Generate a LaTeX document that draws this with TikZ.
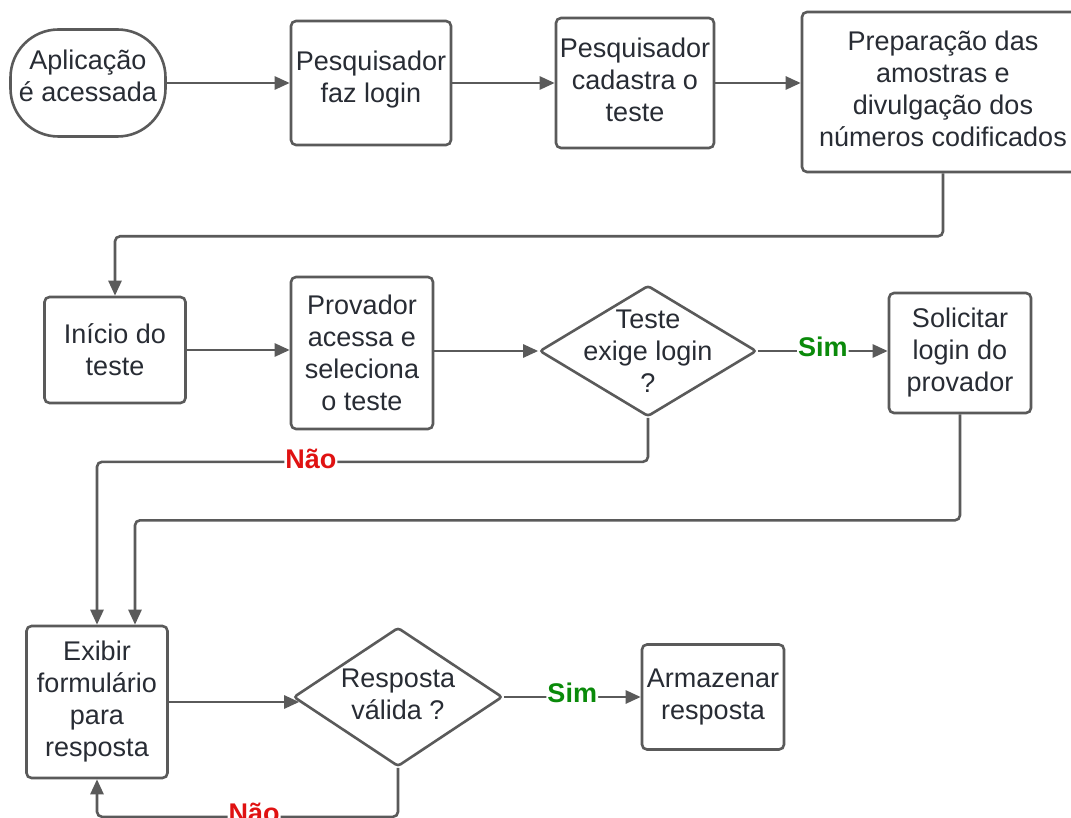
\documentclass[tikz,border=0pt]{standalone}
\usepackage{fontspec}
\setmainfont{Liberation Sans}
\usetikzlibrary{shapes.geometric,arrows.meta,calc}
\definecolor{edgegray}{HTML}{5A5A5A}
\definecolor{inkdark}{HTML}{282C34}
\definecolor{yesgreen}{HTML}{0A8A0A}
\definecolor{nored}{HTML}{E01212}
\tikzset{
  every node/.style={font=\fontsize{27}{32}\selectfont, text=inkdark, align=center},
  boxstep/.style={draw=edgegray, line width=2.6pt, rounded corners=5pt, fill=white, inner sep=0pt},
  terminal/.style={draw=edgegray, line width=2.6pt, rounded corners=48pt, fill=white,
    minimum width=155pt, minimum height=107pt, inner sep=0pt},
  decision/.style={draw=edgegray, line width=2.6pt, diamond, fill=white, inner sep=0pt,
    rounded corners=3pt},
  flow/.style={draw=edgegray, line width=2.6pt, rounded corners=5pt,
    -{Triangle[length=15pt,width=13pt]}},
  yes/.style={font=\fontsize{27}{30}\selectfont\bfseries, text=yesgreen, fill=white, inner sep=1pt},
  no/.style={font=\fontsize{27}{30}\selectfont\bfseries, text=nored, fill=white, inner sep=1pt},
}
\begin{document}
\begin{tikzpicture}[x=1pt, y=-1pt]
\useasboundingbox (0,0) rectangle (1071,818);
\clip (0,0) rectangle (1071,818);
\fill[white] (0,0) rectangle (1071,818);

% first row
\node[terminal] (app) at (88,83) {};
\node at ($(app.center)+(0,-7)$) {Aplicação\\é acessada};
\node[boxstep, minimum width=160pt, minimum height=124pt] (p1) at (371,83) {};
\node at ($(p1.center)+(0,-3)$) {Pesquisador\\faz login};
\node[boxstep, minimum width=158pt, minimum height=130pt] (p2) at (635,83) {};
\node at ($(p2.center)+(0,-3)$) {Pesquisador\\cadastra o\\teste};
\node[boxstep, minimum width=282pt, minimum height=160pt] (prep) at (943,92) {};
\node at ($(prep.center)+(0,-3)$) {Preparação das\\amostras e\\divulgação dos\\números codificados};

% second row
\node[boxstep, minimum width=141pt, minimum height=106pt] (ini) at (115,350) {Início do\\teste};
\node[boxstep, minimum width=142pt, minimum height=152pt] (prov) at (362,353)
  {Provador\\acessa e\\seleciona\\o teste};
\node[decision, minimum width=217pt, minimum height=131pt] (d1) at (648,351) {};
\node at (d1.center) {Teste\\exige login\\?};
\node[boxstep, minimum width=142pt, minimum height=120pt] (sol) at (960,353)
  {Solicitar\\login do\\provador};

% third row
\node[boxstep, minimum width=141pt, minimum height=152pt] (exi) at (97,702)
  {Exibir\\formulário\\para\\resposta};
\node[decision, minimum width=209pt, minimum height=139pt] (d2) at (398,697) {};
\node at ($(d2.center)+(0,-3)$) {Resposta\\válida ?};
\node[boxstep, minimum width=142pt, minimum height=105pt] (arm) at (713,697) {Armazenar\\resposta};

% connectors
\draw[flow] (app) -- (p1);
\draw[flow] (p1) -- (p2);
\draw[flow] (p2.east) -- (p2.east -| prep.west);
\draw[flow] (prep.south) -- ++(0,63) -| (ini.north);
\draw[flow] (ini.east) -- (ini.east -| prov.west);
\draw[flow] (d1.west -| prov.east) -- (d1.west);
\draw[flow] (d1.east) -- node[yes, pos=0.5, yshift=4pt] {Sim} (d1.east -| sol.west);
\draw[flow] (d1.south) -- ++(0,44) -| node[no, pos=0.306, yshift=3pt] {Não} (exi.north);
\draw[flow] (sol.south) -- ++(0,106) -| ([xshift=38pt]exi.north);
\draw[flow] (exi.east) -- ([shift={(7,5)}]d2.west);
\draw[flow] (d2.east) -- node[yes, pos=0.5, yshift=4pt] {Sim} (arm.west);
\draw[flow] (d2.south) -- ++(0,49) -| node[no, pos=0.239, yshift=4pt] {Não} (exi.south);
\end{tikzpicture}
\end{document}
